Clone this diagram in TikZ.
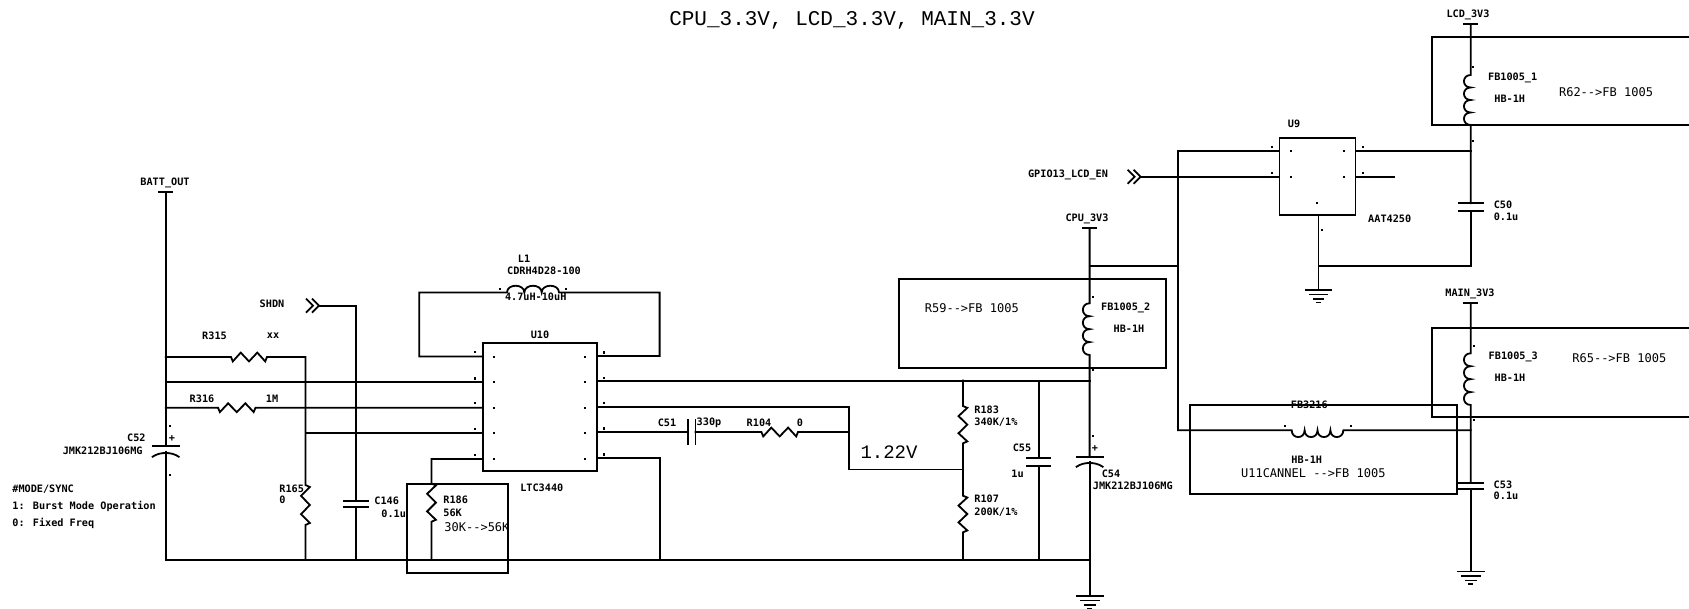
\documentclass[tikz,border=0pt]{standalone}
\usepackage{fontspec}
\usetikzlibrary{calc}
\newfontfamily\labfam{DejaVu Sans Mono}
\newfontfamily\bigfam{Liberation Mono}
\tikzset{
  wire/.style={line width=0.9pt,line join=miter,line cap=rect,black},
  ic/.style={draw,line width=0.9pt,rectangle,inner sep=0pt},
  lab/.style={inner sep=0pt,font=\labfam\bfseries\fontsize{5.1}{6}\selectfont},
  note/.style={inner sep=0pt,font=\labfam\fontsize{6}{7}\selectfont},
  hugetxt/.style={inner sep=0pt,font=\bigfam\fontsize{#1}{#1}\selectfont},
  dot/.style={fill=black,draw=none},
  res/.style={to path={
    -- ($(\tikztostart)!.05!(\tikztotarget)!2.2pt!#1:(\tikztotarget)$)
    -- ($(\tikztostart)!.27!(\tikztotarget)!-2.2pt!#1:(\tikztotarget)$)
    -- ($(\tikztostart)!.5!(\tikztotarget)!2.2pt!#1:(\tikztotarget)$)
    -- ($(\tikztostart)!.73!(\tikztotarget)!-2.2pt!#1:(\tikztotarget)$)
    -- ($(\tikztostart)!.95!(\tikztotarget)!2.2pt!#1:(\tikztotarget)$)
    -- (\tikztotarget)}},
  indfour/.style={to path={
    .. controls ($(\tikztostart)!.0!(\tikztotarget)!4.5pt!#1:(\tikztotarget)$) and ($(\tikztostart)!.25!(\tikztotarget)!4.5pt!#1:(\tikztotarget)$) .. ($(\tikztostart)!.25!(\tikztotarget)$)
    .. controls ($(\tikztostart)!.25!(\tikztotarget)!4.5pt!#1:(\tikztotarget)$) and ($(\tikztostart)!.5!(\tikztotarget)!4.5pt!#1:(\tikztotarget)$) .. ($(\tikztostart)!.5!(\tikztotarget)$)
    .. controls ($(\tikztostart)!.5!(\tikztotarget)!4.5pt!#1:(\tikztotarget)$) and ($(\tikztostart)!.75!(\tikztotarget)!4.5pt!#1:(\tikztotarget)$) .. ($(\tikztostart)!.75!(\tikztotarget)$)
    .. controls ($(\tikztostart)!.75!(\tikztotarget)!4.5pt!#1:(\tikztotarget)$) and ($(\tikztostart)!.999!(\tikztotarget)!4.5pt!#1:(\tikztotarget)$) .. (\tikztotarget)}},
  indthree/.style={to path={
    .. controls ($(\tikztostart)!.0!(\tikztotarget)!4.5pt!#1:(\tikztotarget)$) and ($(\tikztostart)!.333!(\tikztotarget)!4.5pt!#1:(\tikztotarget)$) .. ($(\tikztostart)!.333!(\tikztotarget)$)
    .. controls ($(\tikztostart)!.333!(\tikztotarget)!4.5pt!#1:(\tikztotarget)$) and ($(\tikztostart)!.667!(\tikztotarget)!4.5pt!#1:(\tikztotarget)$) .. ($(\tikztostart)!.667!(\tikztotarget)$)
    .. controls ($(\tikztostart)!.667!(\tikztotarget)!4.5pt!#1:(\tikztotarget)$) and ($(\tikztostart)!.999!(\tikztotarget)!4.5pt!#1:(\tikztotarget)$) .. (\tikztotarget)}},
  pics/gndsym/.style={code={
    \draw[wire] (-13,0) -- (13,0);
    \draw[wire] (-9,4.5) -- (9,4.5);
    \draw[wire] (-5,9) -- (5,9);
    \draw[wire] (-1.5,12.5) -- (1.5,12.5);}},
  pics/tbar/.style={code={\draw[wire] (-6.5,0) -- (6.5,0);}},
  pics/chev/.style={code={
    \draw[wire,line cap=butt] (-13,-7) -- (-6,0) -- (-13,7);
    \draw[wire,line cap=butt] (-7,-7) -- (0,0) -- (-7,7);}},
  pics/plate/.style={code={\draw[wire] (-#1,0) -- (#1,0);}},
  pics/curved/.style={code={\draw[wire] (-13,5) .. controls (-6,0) and (6,0) .. (13,5);}},
}
\begin{document}
\begin{tikzpicture}[x=0.5pt,y=-0.5pt]
\useasboundingbox (0,0) rectangle (1689,609);

% ---------- ICs
\node[ic,minimum width=57pt,minimum height=63.85pt] (U10) at (540,407.2) {};
\node[ic,minimum width=38pt,minimum height=38.35pt] (U9) at (1317.5,176.6) {};

% ---------- key coordinates
\coordinate (battT) at (165.7,192.3);
\coordinate (battB) at (165.7,560);
\coordinate (c52a) at (165.7,446);
\coordinate (c52b) at (165.7,451.7);
\coordinate (r315a) at (231,357);
\coordinate (r315b) at (267,357);
\coordinate (battR315) at (165.7,357);
\coordinate (r165top) at (305.4,357);
\coordinate (r165a) at (305.4,485);
\coordinate (r165b) at (305.4,525);
\coordinate (r165c) at (305.4,560);
\coordinate (j2) at (165.7,382);
\coordinate (j3) at (165.7,407.7);
\coordinate (r316a) at (218,407.7);
\coordinate (r316b) at (255.5,407.7);
\coordinate (j4) at (305.4,433);
\coordinate (u10L1) at (482.9,356.5);
\coordinate (u10L2) at (482.9,382);
\coordinate (u10L3) at (482.9,407.7);
\coordinate (u10L4) at (482.9,433);
\coordinate (u10L5) at (482.9,459);
\coordinate (u10R1) at (597,356);
\coordinate (u10R2) at (597,380.6);
\coordinate (u10R3) at (597,406.7);
\coordinate (u10R4) at (597,432);
\coordinate (u10R5) at (597,457.7);
\coordinate (l1corner) at (419.2,356.5);
\coordinate (l1a) at (507,292.5);
\coordinate (l1b) at (559,292.5);
\coordinate (l1r) at (659.6,292.5);
\coordinate (r5corner) at (431.5,459);
\coordinate (r186a) at (431.5,483.5);
\coordinate (r186b) at (431.5,521.7);
\coordinate (r186c) at (431.5,560);
\coordinate (shdnS) at (319,305.7);
\coordinate (shdnC) at (356,305.7);
\coordinate (c146a) at (356,500.7);
\coordinate (c146b) at (356,507.3);
\coordinate (c146c) at (356,560);
\coordinate (c5d) at (659.6,457.7);
\coordinate (c5b) at (659.6,560);
\coordinate (c51a) at (688,432);
\coordinate (c51b) at (695.5,432);
\coordinate (r104a) at (761.4,432);
\coordinate (r104b) at (798,432);
\coordinate (v122a) at (849,406.7);
\coordinate (v122m) at (849,432);
\coordinate (v122b) at (849,469.5);
\coordinate (jfb) at (962.9,469.5);
\coordinate (r183t) at (962.9,380.6);
\coordinate (r183a) at (962.9,406);
\coordinate (r183b) at (962.9,443.3);
\coordinate (r107a) at (962.9,495.7);
\coordinate (r107b) at (962.9,532.3);
\coordinate (r107c) at (962.9,560);
\coordinate (c55t) at (1038.6,380.6);
\coordinate (c55a) at (1038.6,458.3);
\coordinate (c55b) at (1038.6,465.7);
\coordinate (c55c) at (1038.6,560);
\coordinate (cpuT) at (1089.6,228.3);
\coordinate (cpuJ) at (1089.6,265.7);
\coordinate (fb2a) at (1089.6,303.3);
\coordinate (fb2b) at (1089.6,355);
\coordinate (cpuK) at (1089.6,380.6);
\coordinate (c54a) at (1089.6,456.7);
\coordinate (c54b) at (1089.6,461.7);
\coordinate (cpuB) at (1089.6,560);
\coordinate (cpuG) at (1089.6,596);
\coordinate (busJ) at (1178,265.7);
\coordinate (busT) at (1178,151);
\coordinate (busB) at (1178,430.3);
\coordinate (fb3a) at (1291.7,430.3);
\coordinate (fb3b) at (1343.3,430.3);
\coordinate (mainJ) at (1470.7,430.3);
\coordinate (u9L1) at (1279.5,151);
\coordinate (u9L2) at (1279.5,176.7);
\coordinate (u9R1) at (1355.5,151);
\coordinate (u9R2) at (1355.5,176.7);
\coordinate (u9Rend) at (1394,176.7);
\coordinate (gpioS) at (1140.6,176.7);
\coordinate (u9G) at (1318.5,290);
\coordinate (u9J) at (1318.5,265.7);
\coordinate (lcdT) at (1470.7,24);
\coordinate (fb1a) at (1470.7,75);
\coordinate (fb1b) at (1470.7,125);
\coordinate (lcdJ) at (1470.7,151);
\coordinate (c50a) at (1470.7,203.3);
\coordinate (c50b) at (1470.7,210.7);
\coordinate (lcdB) at (1470.7,265.7);
\coordinate (mainT) at (1470.7,303.3);
\coordinate (fb4a) at (1470.7,353.3);
\coordinate (fb4b) at (1470.7,405);
\coordinate (c53a) at (1470.7,482.7);
\coordinate (c53b) at (1470.7,489.3);
\coordinate (mainG) at (1470.7,571.5);

% ---------- connectors, left part
\draw[wire] (battT) -- (c52a);
\draw[wire] (c52b) -- (battB) -- (cpuB);
\draw[wire] (battR315) -- (r315a) to[res=-90] (r315b) -- (r165top) -- (r165a) to[res=90] (r165b) -- (r165c);
\draw[wire] (j2) -- (u10L2);
\draw[wire] (j3) -- (r316a) to[res=-90] (r316b) -- (u10L3);
\draw[wire] (j4) -- (u10L4);
\draw[wire] (u10L1) -- (l1corner) |- (l1a) to[indthree=90] (l1b) -- (l1r) |- (u10R1);
\draw[wire] (u10L5) -- (r5corner) -- (r186a) to[res=90] (r186b) -- (r186c);
\draw[wire] (shdnS) -- (shdnC) -- (c146a);
\draw[wire] (c146b) -- (c146c);
\draw[wire] (u10R2) -- (cpuK);
\draw[wire] (u10R3) -- (v122a) -- (v122b) -- (jfb);
\draw[wire] (u10R4) -- (c51a);
\draw[wire] (c51b) -- (r104a) to[res=-90] (r104b) -- (v122m);
\draw[wire] (u10R5) -- (c5d) -- (c5b);
\draw[wire] (r183t) -- (r183a) to[res=90] (r183b) -- (jfb) -- (r107a) to[res=90] (r107b) -- (r107c);
\draw[wire] (c55t) -- (c55a);
\draw[wire] (c55b) -- (c55c);
% ---------- connectors, right part
\draw[wire] (cpuT) -- (fb2a) to[indfour=-90] (fb2b) -- (c54a);
\draw[wire] (c54b) -- (cpuG);
\draw[wire] (cpuJ) -- (busJ);
\draw[wire] (busT) -- (busB) -- (fb3a) to[indfour=-90] (fb3b) -- (mainJ);
\draw[wire] (busT) -- (u9L1);
\draw[wire] (gpioS) -- (u9L2);
\draw[wire] (u9R1) -- (lcdJ);
\draw[wire] (u9R2) -- (u9Rend);
\draw[wire] (u9G |- U9.south) -- (u9G);
\draw[wire] (lcdT) -- (fb1a) to[indfour=-90] (fb1b) -- (c50a);
\draw[wire] (c50b) -- (lcdB) -- (u9J);
\draw[wire] (mainT) -- (fb4a) to[indfour=-90] (fb4b) -- (c53a);
\draw[wire] (c53b) -- (mainG);

% ---------- cap plates, symbols
\pic at (c52a) {plate=13};
\pic at (c52b) {curved};
\pic at (c54a) {plate=13};
\pic at (c54b) {curved};
\pic at (c146a) {plate=12};
\pic at (c146b) {plate=12};
\pic at (c55a) {plate=11.5};
\pic at (c55b) {plate=11.5};
\pic at (c50a) {plate=12};
\pic at (c50b) {plate=12};
\pic at (c53a) {plate=12.5};
\pic at (c53b) {plate=12.5};
\draw[wire] ($(c51a)+(0,-12)$) -- ($(c51a)+(0,12.3)$);
\draw[wire] ($(c51b)+(0,-12)$) -- ($(c51b)+(0,12.3)$);
\pic at (cpuG) {gndsym};
\pic at (u9G) {gndsym};
\pic at (mainG) {gndsym};
\pic at (battT) {tbar};
\pic at (cpuT) {tbar};
\pic at (lcdT) {tbar};
\pic at (mainT) {tbar};
\pic at (shdnS) {chev};
\pic at (gpioS) {chev};

% ---------- outline boxes
\draw[wire] (407,483.7) rectangle (508,573.3);
\draw[wire] (899,279) rectangle (1165.7,367.7);
\draw[wire] (1190,405) rectangle (1457.3,494.2);
\draw[wire] (1692,36.7) -- (1432,36.7) -- (1432,125) -- (1692,125);
\draw[wire] (1692,328.3) -- (1432.3,328.3) -- (1432.3,417) -- (1692,417);

% ---------- pin dots
\foreach \px/\py in {475/351.7,475/378.3,475/403,475/429,475/455,
  494/356.7,494/381.7,494/407.7,494/433,494/459,
  585/356.7,585/381.7,585/407.7,585/433,585/459,
  603.6/352.3,603.6/377.7,603.6/403,603.6/428.3,603.6/454.3,
  500/289,566/289,170/426,170/475,
  1291/151,1344/151,1291/176.7,1344/176.7,1271.5/147.3,1271.5/173.3,1362.5/147.3,1362.5/173.3,
  1317/203.3,1321.6/230,1093/296.7,1093/370,1093/436,1285/426,1350.7/426,
  1474/346,1474/420,1473/66.7,1473/140.7}
  \fill[dot] (\px-1,\py-1) rectangle (\px+1.2,\py+1.2);

% ---------- small labels
\node[lab] (tBatt) at (165,183) {BATT\_OUT};
\node[lab] (tShdn) at (272,303.3) {SHDN};
\node[lab] (tR315) at (214.5,335.3) {R315};
\node[lab] (tXx) at (273,335.3) {xx};
\node[lab] (tR316) at (202,399) {R316};
\node[lab] (t1M) at (272,399) {1M};
\node[lab,anchor=east] (tC52) at (146,437.3) {C52};
\node[lab,anchor=east] (tC52v) at (143,450.7) {JMK212BJ106MG};
\node[lab] (tPlus52) at (172,438.3) {+};
\node[lab,anchor=west] (tMode) at (12,488.7) {\#MODE/SYNC};
\node[lab,anchor=west] (tMode1) at (12,506) {1: Burst Mode Operation};
\node[lab,anchor=west] (tMode0) at (12,523.3) {0: Fixed Freq};
\node[lab,anchor=west] (tR165) at (279,488.3) {R165};
\node[lab,anchor=west] (tR165v) at (279,500) {0};
\node[lab,anchor=west] (tC146) at (374,500.7) {C146};
\node[lab,anchor=west] (tC146v) at (381,513.3) {0.1u};
\node[lab,anchor=west] (tR186) at (443,500) {R186};
\node[lab,anchor=west] (tR186v) at (443,512.7) {56K};
\node[note,anchor=west] (t30K) at (444,526.7) {30K-->56K};
\node[lab] (tL1) at (524,258.3) {L1};
\node[lab] (tL1p) at (544,270.7) {CDRH4D28-100};
\node[lab] (tL1v) at (535.7,296.7) {4.7uH-10uH};
\node[lab] (tU10) at (540,334.3) {U10};
\node[lab] (tLTC) at (541.8,487.3) {LTC3440};
\node[lab] (tC51) at (667,423) {C51};
\node[lab] (t330p) at (709,423) {330p};
\node[lab] (tR104) at (759,423) {R104};
\node[lab] (tR104v) at (800,423) {0};
\node[lab,anchor=west] (tR183) at (974,409.3) {R183};
\node[lab,anchor=west] (tR183v) at (974,422.3) {340K/1\%};
\node[lab,anchor=west] (tR107) at (974,498.3) {R107};
\node[lab,anchor=west] (tR107v) at (974,511.7) {200K/1\%};
\node[lab] (tC55) at (1022,447.7) {C55};
\node[lab] (tC55v) at (1017.5,474) {1u};
\node[lab] (tPlus54) at (1095,448.3) {+};
\node[lab,anchor=west] (tC54) at (1101.4,473.3) {C54};
\node[lab,anchor=west] (tC54v) at (1092.5,485.7) {JMK212BJ106MG};
\node[lab] (tCpu) at (1087,219) {CPU\_3V3};
\node[lab,anchor=west] (tFb2) at (1100.7,307.7) {FB1005\_2};
\node[lab] (tFb2v) at (1129,328.3) {HB-1H};
\node[lab] (tGpio) at (1068,174.7) {GPIO13\_LCD\_EN};
\node[lab] (tU9) at (1294,124.3) {U9};
\node[lab] (tAAT) at (1389.7,218.3) {AAT4250};
\node[lab] (tLcd) at (1468,15) {LCD\_3V3};
\node[lab,anchor=west] (tFb1) at (1487.7,78.3) {FB1005\_1};
\node[lab] (tFb1v) at (1509.7,99) {HB-1H};
\node[lab,anchor=west] (tC50) at (1493.4,205) {C50};
\node[lab,anchor=west] (tC50v) at (1493.4,216.7) {0.1u};
\node[lab] (tMain) at (1470,294) {MAIN\_3V3};
\node[lab,anchor=west] (tFb4) at (1488.3,357.3) {FB1005\_3};
\node[lab] (tFb4v) at (1510,377.7) {HB-1H};
\node[lab] (tFb3) at (1309.3,405) {FB3216};
\node[lab] (tFb3v) at (1306.7,460) {HB-1H};
\node[lab,anchor=west] (tC53) at (1493.3,484.3) {C53};
\node[lab,anchor=west] (tC53v) at (1493.3,496) {0.1u};

% ---------- larger notes
\node[note] (nR59) at (971.8,308.3) {R59-->FB 1005};
\node[note] (nR62) at (1606,91.7) {R62-->FB 1005};
\node[note] (nR65) at (1619.3,357.7) {R65-->FB 1005};
\node[note] (nU11) at (1313.3,473.3) {U11CANNEL -->FB 1005};
\node[hugetxt=9.5] (t122) at (889,451.7) {1.22V};
\node[hugetxt=10.5] (tTitle) at (852,20.5) {CPU\_3.3V, LCD\_3.3V, MAIN\_3.3V};
\end{tikzpicture}
\end{document}
